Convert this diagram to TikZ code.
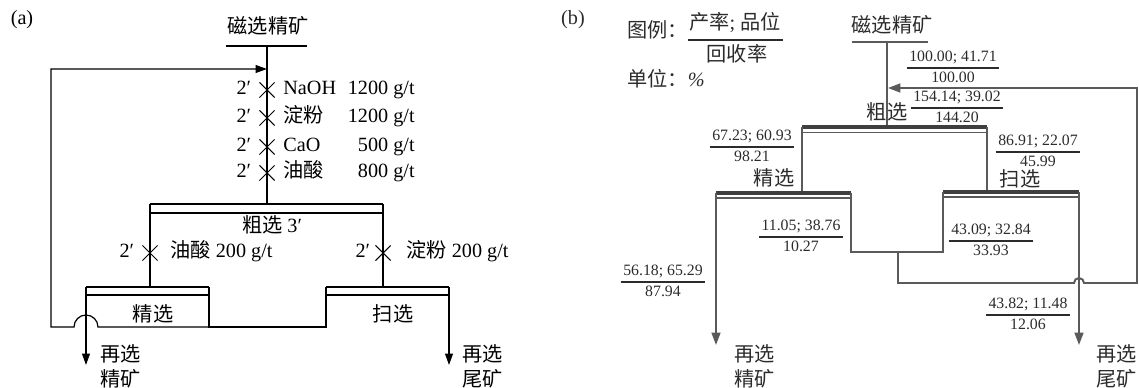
\documentclass[tikz,border=0pt]{standalone}
\usepackage{fontspec}
\setmainfont{Liberation Serif}
\newfontfamily\cjk{Noto Sans CJK SC}
\usetikzlibrary{arrows.meta,positioning,shapes.misc}
\definecolor{flowGray}{HTML}{5A5A5A}
\definecolor{barGray}{HTML}{3F3F3F}
\definecolor{textGray}{HTML}{2B2B2B}
\setlength{\arrayrulewidth}{0.8pt}
\newcommand{\yieldfrac}[2]{\begin{tabular}{@{\hspace{1.5pt}}c@{\hspace{1.5pt}}}#1\\\hline #2\end{tabular}}

\begin{document}
\begin{tikzpicture}[
      x=0.02cm, y=-0.02cm,
      txt/.style={inner sep=0pt, font=\fontsize{11.5}{14}\selectfont, text height=0.75em, text depth=0.2em},
      zh/.style={txt, font=\fontsize{11.5}{14}\selectfont\cjk},
      outtxt/.style={inner sep=0pt, align=left, font=\fontsize{11.5}{14.2}\selectfont\cjk},
      num/.style={inner sep=0pt, font=\fontsize{9}{11}\selectfont},
      reagent/.style={draw, cross out, minimum size=0.28cm, inner sep=0pt, line width=0.6pt},
      flowA/.style={line width=0.7pt},
      barA/.style={line width=1.7pt},
      arrowA/.style={flowA, -{Triangle[length=6.5pt,width=4.5pt]}},
      flowB/.style={line width=1.1pt, draw=flowGray},
      barB/.style={line width=2.4pt, draw=barGray},
      arrowB/.style={flowB, -{Triangle[length=7pt,width=5pt]}, color=flowGray}
    ]
      \useasboundingbox (0,0) rectangle (1139,388);

      % (a) flowsheet with reagents
      \node[txt] (tagA) at (22,20) {(a)};
      \node[zh] (feedA) at (268,29) {磁选精矿};
      \draw[flowA] (226,46) -- (307,46);
      \coordinate (inA) at (267,46);
      \coordinate (roAl) at (150,204);
      \coordinate (roAr) at (383,204);
      \coordinate (roAm) at (267,204);
      \coordinate (clAl) at (86,287);
      \coordinate (clAr) at (209,287);
      \coordinate (scAl) at (326,287);
      \coordinate (scAr) at (449,287);
      \coordinate (clAo) at (86,365);
      \coordinate (scAo) at (449,365);
      \coordinate (clAt) at (209,327);
      \coordinate (scAc) at (326,327);
      \coordinate (hopA) at (98,327);
      \coordinate (retA) at (51,327);
      \coordinate (retAtop) at (51,69);
      \coordinate (joinA) at (267,69);

      \draw[flowA] (inA) -- (roAm);
      \draw[barA] (roAl) -- (roAr);
      \draw[flowA] ([yshift=-0.18cm]roAl) -- ([yshift=-0.18cm]roAr);
      \draw[flowA] (roAl) -- (roAl |- clAl);
      \draw[flowA] (roAr) -- (roAr |- scAl);
      \draw[barA] (clAl) -- (clAr);
      \draw[flowA] ([yshift=-0.16cm]clAl) -- ([yshift=-0.16cm]clAr);
      \draw[barA] (scAl) -- (scAr);
      \draw[flowA] ([yshift=-0.16cm]scAl) -- ([yshift=-0.16cm]scAr);
      \draw[arrowA] (clAl) -- (clAo);
      \draw[arrowA] (scAr) -- (scAo);
      \draw[flowA] (clAr) -- (clAt) -- (scAc) -- (scAl);
      \draw[arrowA] (clAt) -- (hopA) arc[start angle=0, end angle=180, radius=0.24cm] -- (retA) -- (retAtop) -- (joinA);

      \foreach \yy/\rg/\ds [count=\i] in {90/NaOH/1200, 118/{\cjk 淀粉}/1200, 147/CaO/500, 173/{\cjk 油酸}/800}{
        \node[reagent] (dA\i) at (267,\yy) {};
        \node[txt, left=0.16cm of dA\i] (tA\i) {2′};
        \node[txt, anchor=west] (rA\i) at (283,\yy) {\rg};
        \node[txt, anchor=east] (qA\i) at (415,\yy) {\ds\ g/t};
      }
      \node[txt] (roAlab) at (272,228) {{\cjk 粗选} 3′};
      \node[reagent] (dA5) at (150,253) {};
      \node[txt, left=0.16cm of dA5] (tA5) {2′};
      \node[txt, anchor=west] (rA5) at (170,253) {{\cjk 油酸} 200 g/t};
      \node[reagent] (dA6) at (383,253) {};
      \node[txt, left=0.1cm of dA6] (tA6) {2′};
      \node[txt, anchor=west] (rA6) at (406,253) {{\cjk 淀粉} 200 g/t};
      \node[zh] (clAlab) at (153,317) {精选};
      \node[zh] (scAlab) at (393,317) {扫选};
      \node[outtxt, anchor=west] (conA) at (100,366) {再选\\精矿};
      \node[outtxt, anchor=west] (tailA) at (462,366) {再选\\尾矿};

      % (b) flowsheet with balance figures
      \begin{scope}[text=textGray]
      \node[txt] (tagB) at (573,20) {(b)};
      \node[zh, anchor=west] (keyB) at (627,33) {图例：};
      \node[txt] (keyNum) at (735,25) {{\cjk 产率}; {\cjk 品位}};
      \draw[line width=0.8pt, draw=textGray] (688,40) -- (783,40);
      \node[zh] (keyDen) at (737,57) {回收率};
      \node[txt, anchor=west] (unitB) at (627,82) {{\cjk 单位：}\textit{\%}};

      \node[zh] (feedB) at (892,28) {磁选精矿};
      \draw[flowB] (852,42) -- (928,42);
      \coordinate (inB) at (887,42);
      \coordinate (roBl) at (802,127);
      \coordinate (roBr) at (987,127);
      \coordinate (roBm) at (887,127);
      \coordinate (clBl) at (716,193);
      \coordinate (clBr) at (851,193);
      \coordinate (scBl) at (943,192);
      \coordinate (scBr) at (1079,192);
      \coordinate (clBo) at (716,345);
      \coordinate (scBo) at (1079,345);
      \coordinate (clBt) at (851,252);
      \coordinate (scBc) at (943,252);
      \coordinate (midB) at (898,252);
      \coordinate (midBlow) at (898,283);
      \coordinate (hopB) at (1074,283);
      \coordinate (edgeBlow) at (1137,283);
      \coordinate (edgeBtop) at (1137,88);
      \coordinate (joinB) at (888,88);

      \draw[flowB] (inB) -- (roBm);
      \node[zh] (roBlab) at (887,115) {粗选};
      \draw[barB] (roBl) -- (roBr);
      \draw[flowB, line width=0.8pt] ([yshift=-0.11cm]roBl) -- ([yshift=-0.11cm]roBr);
      \draw[flowB] (roBl) -- (roBl |- clBl);
      \draw[flowB] (roBr) -- (roBr |- scBl);
      \draw[barB] (clBl) -- (clBr);
      \draw[flowB, line width=0.8pt] ([yshift=-0.1cm]clBl) -- ([yshift=-0.1cm]clBr);
      \draw[barB] (scBl) -- (scBr);
      \draw[flowB, line width=0.8pt] ([yshift=-0.1cm]scBl) -- ([yshift=-0.1cm]scBr);
      \draw[arrowB] (clBl) -- (clBo);
      \draw[arrowB] (scBr) -- (scBo);
      \draw[flowB] (clBr) -- (clBt) -- (scBc) -- (scBl);
      \draw[arrowB] (midB) -- (midBlow) -- (hopB) arc[start angle=180, end angle=0, radius=0.1cm] -- (edgeBlow) -- (edgeBtop) -- (joinB);

      \node[zh] (clBlab) at (774,181) {精选};
      \node[zh] (scBlab) at (1020,182) {扫选};
      \node[num] (f1) at (953,68) {\yieldfrac{100.00; 41.71}{100.00}};
      \node[num] (f2) at (957,108) {\yieldfrac{154.14; 39.02}{144.20}};
      \node[num] (f3) at (752,147) {\yieldfrac{67.23; 60.93}{98.21}};
      \node[num] (f4) at (1038,152) {\yieldfrac{86.91; 22.07}{45.99}};
      \node[num] (f5) at (801,237) {\yieldfrac{11.05; 38.76}{10.27}};
      \node[num] (f6) at (991,241) {\yieldfrac{43.09; 32.84}{33.93}};
      \node[num] (f7) at (663,282) {\yieldfrac{56.18; 65.29}{87.94}};
      \node[num] (f8) at (1028,315) {\yieldfrac{43.82; 11.48}{12.06}};
      \node[outtxt, anchor=west] (conB) at (734,366) {再选\\精矿};
      \node[outtxt, anchor=west] (tailB) at (1096,366) {再选\\尾矿};
      \end{scope}
    \end{tikzpicture}
\end{document}
